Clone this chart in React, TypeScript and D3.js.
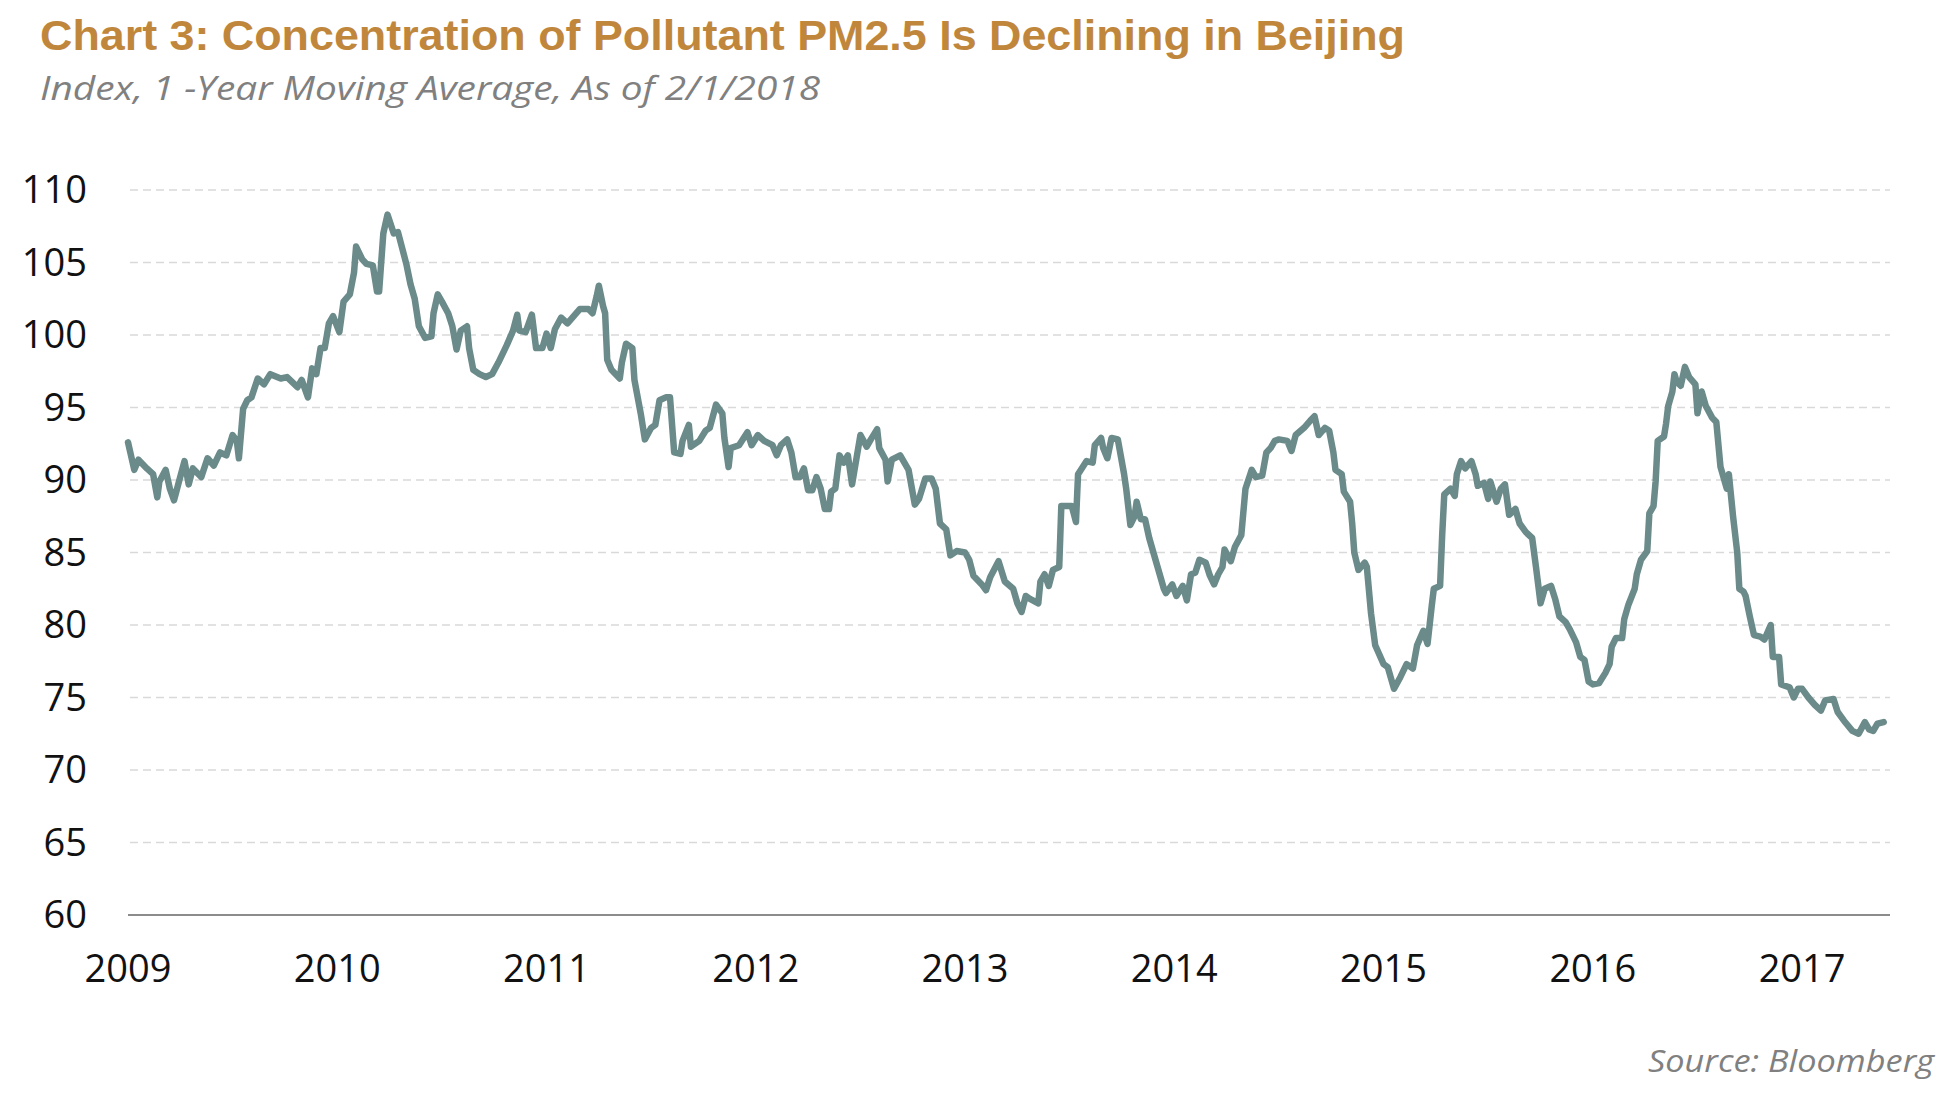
import * as d3 from 'd3';

// PM2.5 index, 1-year moving average as [decimal year, value]
const series2009: [number, number][] = [
  [2009.0, 92.6], [2009.03, 90.7], [2009.05, 91.4], [2009.09, 90.8], [2009.12, 90.4],
  [2009.14, 88.8], [2009.15, 89.9], [2009.18, 90.7], [2009.2, 89.4], [2009.22, 88.6],
  [2009.24, 89.7], [2009.27, 91.3], [2009.29, 89.7], [2009.31, 90.8], [2009.35, 90.2],
  [2009.38, 91.5], [2009.41, 91.0], [2009.44, 91.9], [2009.47, 91.7], [2009.5, 93.1],
  [2009.52, 92.7], [2009.53, 91.5], [2009.55, 94.9], [2009.57, 95.5], [2009.59, 95.7],
  [2009.62, 97.0], [2009.65, 96.6], [2009.68, 97.3], [2009.73, 97.0], [2009.76, 97.1],
  [2009.81, 96.4], [2009.83, 96.9], [2009.86, 95.7], [2009.88, 97.7], [2009.9, 97.3],
  [2009.92, 99.1], [2009.94, 99.1], [2009.96, 100.8], [2009.98, 101.3],
];

const series2010: [number, number][] = [
  [2010.01, 100.2], [2010.03, 102.3], [2010.06, 102.8], [2010.08, 104.3], [2010.09, 106.1],
  [2010.12, 105.2], [2010.14, 104.9], [2010.17, 104.8], [2010.19, 103.0], [2010.2, 103.0],
  [2010.22, 107.0], [2010.24, 108.3], [2010.27, 107.0], [2010.29, 107.1], [2010.31, 106.0],
  [2010.33, 104.9], [2010.35, 103.5], [2010.37, 102.5], [2010.39, 100.6], [2010.42, 99.8],
  [2010.45, 99.9], [2010.46, 101.5], [2010.48, 102.8], [2010.5, 102.3], [2010.53, 101.5],
  [2010.55, 100.6], [2010.57, 99.0], [2010.59, 100.3], [2010.62, 100.6], [2010.63, 99.1],
  [2010.65, 97.6], [2010.68, 97.3], [2010.71, 97.1], [2010.74, 97.3], [2010.77, 98.1],
  [2010.81, 99.3], [2010.84, 100.3], [2010.86, 101.4], [2010.87, 100.3], [2010.9, 100.2],
  [2010.93, 101.4], [2010.95, 99.1], [2010.98, 99.1],
];

const series2011: [number, number][] = [
  [2011.0, 100.1], [2011.02, 99.1], [2011.04, 100.4], [2011.07, 101.2], [2011.1, 100.8],
  [2011.13, 101.3], [2011.16, 101.8], [2011.2, 101.8], [2011.22, 101.5], [2011.24, 102.7],
  [2011.25, 103.4], [2011.27, 102.0], [2011.28, 101.5], [2011.29, 98.3], [2011.31, 97.6],
  [2011.35, 97.0], [2011.36, 98.1], [2011.38, 99.4], [2011.41, 99.1], [2011.42, 96.9],
  [2011.45, 94.6], [2011.47, 92.8], [2011.5, 93.6], [2011.52, 93.8], [2011.54, 95.5],
  [2011.57, 95.7], [2011.59, 95.7], [2011.61, 91.9], [2011.64, 91.8], [2011.65, 92.7],
  [2011.68, 93.8], [2011.69, 92.3], [2011.73, 92.7], [2011.76, 93.4], [2011.78, 93.6],
  [2011.81, 95.2], [2011.84, 94.6], [2011.85, 92.9], [2011.87, 90.9], [2011.88, 92.2],
  [2011.92, 92.4], [2011.96, 93.3], [2011.98, 92.4],
];

const series2012: [number, number][] = [
  [2012.01, 93.1], [2012.04, 92.7], [2012.08, 92.4], [2012.1, 91.7], [2012.12, 92.4],
  [2012.15, 92.8], [2012.17, 91.9], [2012.19, 90.2], [2012.21, 90.2], [2012.23, 90.8],
  [2012.25, 89.3], [2012.27, 89.3], [2012.29, 90.2], [2012.31, 89.4], [2012.33, 88.0],
  [2012.35, 88.0], [2012.36, 89.2], [2012.38, 89.4], [2012.4, 91.7], [2012.42, 91.2],
  [2012.44, 91.7], [2012.46, 89.7], [2012.48, 91.4], [2012.5, 93.1], [2012.53, 92.3],
  [2012.55, 92.8], [2012.58, 93.5], [2012.59, 92.2], [2012.62, 91.4], [2012.63, 89.9],
  [2012.65, 91.4], [2012.69, 91.7], [2012.71, 91.2], [2012.73, 90.7], [2012.76, 88.3],
  [2012.78, 88.7], [2012.81, 90.1], [2012.84, 90.1], [2012.86, 89.4], [2012.88, 87.0],
  [2012.91, 86.6], [2012.93, 84.8], [2012.96, 85.1],
];

const series2013: [number, number][] = [
  [2013.0, 85.0], [2013.02, 84.5], [2013.04, 83.4], [2013.08, 82.8], [2013.1, 82.4],
  [2013.12, 83.3], [2013.16, 84.4], [2013.19, 83.0], [2013.23, 82.5], [2013.25, 81.5],
  [2013.27, 80.9], [2013.29, 82.0], [2013.31, 81.8], [2013.35, 81.5], [2013.36, 83.0],
  [2013.38, 83.5], [2013.4, 82.7], [2013.42, 83.8], [2013.45, 84.0], [2013.46, 88.2],
  [2013.49, 88.2], [2013.51, 88.2], [2013.53, 87.1], [2013.54, 90.4], [2013.58, 91.3],
  [2013.61, 91.2], [2013.62, 92.4], [2013.65, 92.9], [2013.66, 92.2], [2013.68, 91.5],
  [2013.7, 92.9], [2013.73, 92.8], [2013.76, 90.4], [2013.77, 89.4], [2013.79, 86.9],
  [2013.81, 87.5], [2013.82, 88.5], [2013.84, 87.3], [2013.86, 87.3], [2013.88, 86.0],
  [2013.92, 84.0], [2013.95, 82.5], [2013.96, 82.2], [2013.99, 82.8],
];

const series2014: [number, number][] = [
  [2014.01, 82.0], [2014.04, 82.7], [2014.06, 81.7], [2014.08, 83.5], [2014.1, 83.6],
  [2014.12, 84.5], [2014.15, 84.3], [2014.17, 83.4], [2014.19, 82.8], [2014.21, 83.5],
  [2014.23, 84.0], [2014.24, 85.2], [2014.27, 84.4], [2014.29, 85.4], [2014.32, 86.2],
  [2014.34, 89.4], [2014.37, 90.7], [2014.39, 90.2], [2014.42, 90.3], [2014.44, 91.9],
  [2014.46, 92.2], [2014.48, 92.7], [2014.5, 92.8], [2014.54, 92.7], [2014.56, 92.0],
  [2014.58, 93.1], [2014.62, 93.6], [2014.65, 94.1], [2014.67, 94.4], [2014.69, 93.1],
  [2014.72, 93.6], [2014.74, 93.4], [2014.76, 91.9], [2014.77, 90.7], [2014.8, 90.4],
  [2014.81, 89.2], [2014.84, 88.5], [2014.85, 87.0], [2014.86, 85.0], [2014.88, 83.8],
  [2014.91, 84.3], [2014.92, 84.0], [2014.94, 80.8], [2014.96, 78.6],
];

const series2015: [number, number][] = [
  [2015.0, 77.3], [2015.02, 77.1], [2015.05, 75.6], [2015.08, 76.4], [2015.11, 77.3],
  [2015.14, 77.0], [2015.16, 78.6], [2015.19, 79.6], [2015.21, 78.7], [2015.23, 81.3],
  [2015.24, 82.5], [2015.27, 82.7], [2015.28, 86.2], [2015.29, 89.0], [2015.32, 89.4],
  [2015.34, 88.9], [2015.35, 90.4], [2015.37, 91.3], [2015.39, 90.8], [2015.42, 91.3],
  [2015.44, 90.4], [2015.45, 89.6], [2015.48, 89.8], [2015.5, 88.7], [2015.51, 89.9],
  [2015.54, 88.5], [2015.56, 89.4], [2015.58, 89.7], [2015.6, 87.6], [2015.63, 88.0],
  [2015.65, 87.0], [2015.68, 86.4], [2015.71, 86.0], [2015.73, 83.8], [2015.75, 81.5],
  [2015.77, 82.5], [2015.8, 82.7], [2015.82, 81.8], [2015.84, 80.6], [2015.87, 80.2],
  [2015.89, 79.7], [2015.92, 78.8], [2015.94, 77.8], [2015.96, 77.6], [2015.98, 76.1],
];

const series2016: [number, number][] = [
  [2016.0, 75.9], [2016.03, 76.0], [2016.06, 76.7], [2016.08, 77.3], [2016.09, 78.5],
  [2016.11, 79.1], [2016.14, 79.1], [2016.15, 80.4], [2016.17, 81.4], [2016.2, 82.5],
  [2016.21, 83.5], [2016.23, 84.5], [2016.26, 85.1], [2016.27, 87.7], [2016.29, 88.2],
  [2016.3, 89.9], [2016.31, 92.7], [2016.34, 93.0], [2016.35, 93.9], [2016.36, 95.1],
  [2016.38, 96.1], [2016.39, 97.3], [2016.4, 96.8], [2016.42, 96.5], [2016.44, 97.8],
  [2016.46, 97.1], [2016.49, 96.6], [2016.5, 94.6], [2016.52, 96.1], [2016.54, 95.1],
  [2016.57, 94.3], [2016.59, 94.0], [2016.61, 90.9], [2016.62, 90.4], [2016.64, 89.4],
  [2016.65, 90.4], [2016.67, 87.5], [2016.69, 85.0], [2016.7, 82.5], [2016.72, 82.3],
  [2016.73, 82.0], [2016.75, 80.6], [2016.77, 79.3], [2016.8, 79.2], [2016.82, 79.0],
  [2016.85, 80.0], [2016.86, 77.8], [2016.89, 77.8], [2016.9, 75.9], [2016.94, 75.7],
  [2016.96, 75.0], [2016.98, 75.6],
];

const series2017: [number, number][] = [
  [2017.0, 75.6], [2017.03, 75.0], [2017.06, 74.5], [2017.09, 74.1], [2017.11, 74.8],
  [2017.15, 74.9], [2017.17, 74.0], [2017.2, 73.4], [2017.24, 72.7], [2017.27, 72.5],
  [2017.3, 73.3], [2017.32, 72.8], [2017.34, 72.7], [2017.36, 73.2], [2017.39, 73.3],
];

const yearTicks = [2009, 2010, 2011, 2012, 2013, 2014, 2015, 2016, 2017];
const valueTicks = [60, 65, 70, 75, 80, 85, 90, 95, 100, 105, 110];

const titleText = 'Chart 3: Concentration  of Pollutant PM2.5 Is Declining in Beijing';
const subtitleText = 'Index, 1 -Year Moving Average, As of 2/1/2018';
const sourceText = 'Source: Bloomberg';

const width = 1951;
const height = 1100;
const plot = { left: 128, right: 1890, top: 190, bottom: 915 };
const labelFont = '"Open Sans", "Liberation Sans", sans-serif';

export default function App() {
  const data = [
    ...series2009, ...series2010, ...series2011, ...series2012,
    ...series2013, ...series2014, ...series2015, ...series2016, ...series2017,
  ];

  const xScale = d3.scaleLinear().domain([2009, 2017.42]).range([plot.left, plot.right]);
  const yScale = d3.scaleLinear().domain([60, 110]).range([plot.bottom, plot.top]);

  const line = d3
    .line<[number, number]>()
    .x((d) => xScale(d[0]))
    .y((d) => yScale(d[1]));

  return (
    <div style={{ position: 'absolute', left: 0, top: 0 }}>
      <svg width={width} height={height} style={{ display: 'block', background: '#fff' }}>
        <text
          x={40}
          y={50}
          fontFamily='"Liberation Sans", Arial, sans-serif'
          fontWeight='bold'
          fontSize={42}
          fill='#C0873C'
          textLength={1365}
          lengthAdjust='spacingAndGlyphs'
        >
          {titleText}
        </text>
        <text
          x={40}
          y={100}
          fontFamily={labelFont}
          fontStyle='italic'
          fontSize={33}
          fill='#808080'
          textLength={780}
          lengthAdjust='spacingAndGlyphs'
        >
          {subtitleText}
        </text>

        {valueTicks
          .filter((v) => v !== 60)
          .map((v) => (
            <line
              key={v}
              x1={plot.left + 2}
              x2={plot.right}
              y1={yScale(v)}
              y2={yScale(v)}
              stroke='#d9d9d9'
              strokeWidth={1.6}
              strokeDasharray='8 5'
            />
          ))}
        <line
          x1={plot.left}
          x2={plot.right}
          y1={yScale(60)}
          y2={yScale(60)}
          stroke='#8c8c8c'
          strokeWidth={2}
        />

        {valueTicks.map((v) => (
          <text
            key={v}
            x={87}
            y={yScale(v) + 13}
            textAnchor='end'
            fontFamily={labelFont}
            fontSize={38}
            fill='#111'
          >
            {v}
          </text>
        ))}
        {yearTicks.map((yr) => (
          <text
            key={yr}
            x={xScale(yr)}
            y={982}
            textAnchor='middle'
            fontFamily={labelFont}
            fontSize={38}
            fill='#111'
          >
            {yr}
          </text>
        ))}

        <path
          d={line(data) ?? ''}
          fill='none'
          stroke='#6B8A8A'
          strokeWidth={6.5}
          strokeLinejoin='round'
          strokeLinecap='round'
        />

        <text
          x={1934}
          y={1072}
          textAnchor='end'
          fontFamily={labelFont}
          fontStyle='italic'
          fontSize={31}
          fill='#808080'
          textLength={286}
          lengthAdjust='spacingAndGlyphs'
        >
          {sourceText}
        </text>
      </svg>
    </div>
  );
}
